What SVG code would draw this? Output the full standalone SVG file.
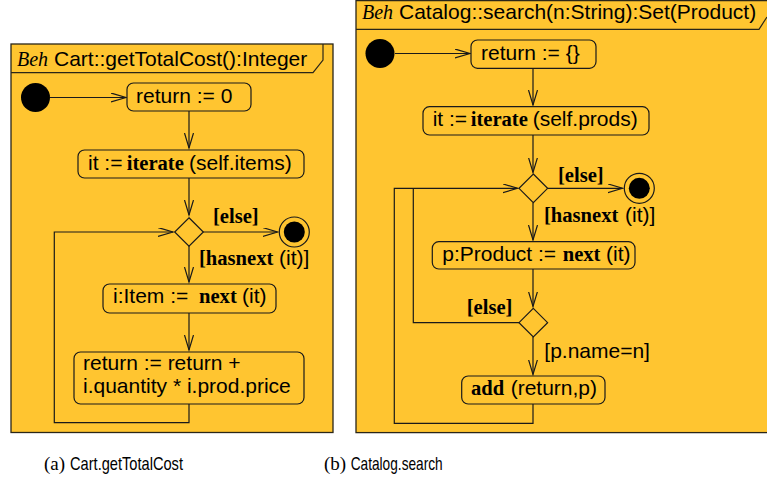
<svg xmlns="http://www.w3.org/2000/svg" width="767" height="479" viewBox="0 0 767 479">
<style>
.frame{fill:#FFC530;stroke:#2a2618;stroke-width:1.3}
.hdr{fill:none;stroke:#2a2618;stroke-width:1.2}
.act{fill:#FFC530;stroke:#1a1a1a;stroke-width:1.2}
.edge{fill:none;stroke:#1a1a1a;stroke-width:1.2}
.dec{fill:#FFC530;stroke:#1a1a1a;stroke-width:1.2}
.sans{font-family:"Liberation Sans",Arial,sans-serif;font-size:21px;fill:#000}
.bs{font-family:"Liberation Serif","Times New Roman",serif;font-weight:bold;font-size:20.6px}
.beh{font-family:"Liberation Serif","Times New Roman",serif;font-style:italic;font-size:20px}
.cap{font-family:"Liberation Sans",Arial,sans-serif;font-size:19px;fill:#000}
.capr{font-family:"Liberation Serif","Times New Roman",serif;font-size:19px;fill:#000}
</style>
<defs>
<marker id="arr" markerUnits="userSpaceOnUse" markerWidth="17" markerHeight="11" refX="15" refY="4.5" orient="auto">
<path d="M0,0 L15,4.5 L0,9" fill="none" stroke="#1a1a1a" stroke-width="1.2"/>
</marker>
</defs>
<rect width="767" height="479" fill="#fff"/>

<!-- Left frame -->
<g id="frameA">
<rect class="frame" x="11" y="44" width="322" height="388.5"/>
<path class="hdr" d="M11,72.7 L313,72.7 L323,60 L323,44"/>
<text x="17" y="65.5" class="beh">Beh</text>
<text x="54" y="65.5" class="sans">Cart::getTotalCost():Integer</text>
</g>

<!-- Right frame -->
<g id="frameB">
<rect class="frame" x="356" y="0.6" width="430" height="432"/>
<path class="hdr" d="M356,29.3 L759,29.3 L767,17"/>
<text x="362" y="19" class="beh">Beh</text>
<text x="399" y="19" class="sans">Catalog::search(n:String):Set(Product)</text>
</g>

<!-- Connectors -->
<g id="connectors">
<line class="edge" x1="50" y1="97.5" x2="126" y2="97.5" marker-end="url(#arr)"/>
<line class="edge" x1="189" y1="111" x2="189" y2="148" marker-end="url(#arr)"/>
<line class="edge" x1="189" y1="178" x2="189" y2="215" marker-end="url(#arr)"/>
<line class="edge" x1="203" y1="232" x2="277.5" y2="232" marker-end="url(#arr)"/>
<line class="edge" x1="189" y1="246" x2="189" y2="282" marker-end="url(#arr)"/>
<line class="edge" x1="189" y1="313" x2="189" y2="350" marker-end="url(#arr)"/>
<polyline class="edge" points="189,404 189,422.7 54.3,422.7 54.3,232 173,232" marker-end="url(#arr)"/>

<line class="edge" x1="395" y1="53.5" x2="470" y2="53.5" marker-end="url(#arr)"/>
<line class="edge" x1="533" y1="68.3" x2="533" y2="105" marker-end="url(#arr)"/>
<line class="edge" x1="533" y1="135" x2="533" y2="172.5" marker-end="url(#arr)"/>
<line class="edge" x1="547.5" y1="188.3" x2="622.5" y2="188.3" marker-end="url(#arr)"/>
<line class="edge" x1="533" y1="202.7" x2="533" y2="240" marker-end="url(#arr)"/>
<line class="edge" x1="533" y1="269" x2="533" y2="306.5" marker-end="url(#arr)"/>
<line class="edge" x1="533" y1="336.7" x2="533" y2="374.5" marker-end="url(#arr)"/>
<polyline class="edge" points="519,322.7 413.3,322.7 413.3,188.3"/>
<polyline class="edge" points="533,404 533,423.3 394.3,423.3 394.3,188.3 517.5,188.3" marker-end="url(#arr)"/>
</g>

<!-- Left diagram nodes -->
<g id="a_init"><circle cx="35.5" cy="97.5" r="14.5" fill="#000"/></g>
<g id="a_ret0">
<rect class="act" x="127" y="83" width="124" height="28" rx="6.5"/>
<text x="136" y="103.3" class="sans">return := 0</text>
</g>
<g id="a_iter">
<rect class="act" x="78" y="150" width="226" height="28" rx="6.5"/>
<text y="169.5" class="sans"><tspan x="88">it :=</tspan><tspan x="126.7" class="bs">iterate</tspan><tspan x="189">(self.items)</tspan></text>
</g>
<g id="a_dec"><polygon class="dec" points="189,217.8 203.3,232 189,246.2 174.7,232"/></g>
<g id="a_final">
<circle cx="294.3" cy="232" r="15" fill="#FFC530" stroke="#1a1a1a" stroke-width="1.2"/>
<circle cx="294.3" cy="232" r="10.5" fill="#000"/>
</g>
<text x="213" y="222.5" class="bs">[else]</text>
<text y="265" class="sans"><tspan x="199" class="bs">[hasnext</tspan><tspan x="279">(it)]</tspan></text>
<g id="a_next">
<rect class="act" x="103" y="284" width="173" height="29" rx="6.5"/>
<text y="303.3" class="sans"><tspan x="113">i:Item :=</tspan><tspan x="199" class="bs">next</tspan><tspan x="242">(it)</tspan></text>
</g>
<g id="a_sum">
<rect class="act" x="74" y="352" width="230" height="52" rx="6.5"/>
<text x="83" y="370" class="sans">return := return +</text>
<text x="83" y="393.3" class="sans">i.quantity * i.prod.price</text>
</g>

<!-- Right diagram nodes -->
<g id="b_init"><circle cx="380" cy="53.5" r="14.5" fill="#000"/></g>
<g id="b_ret">
<rect class="act" x="471" y="40" width="125" height="28.3" rx="6.5"/>
<text x="481" y="60.3" class="sans">return := {}</text>
</g>
<g id="b_iter">
<rect class="act" x="423" y="106.7" width="226" height="28.3" rx="6.5"/>
<text y="126.3" class="sans"><tspan x="432.7">it :=</tspan><tspan x="470.7" class="bs">iterate</tspan><tspan x="532.7">(self.prods)</tspan></text>
</g>
<g id="b_dec1"><polygon class="dec" points="533.3,174 547.6,188.3 533.3,202.6 519,188.3"/></g>
<g id="b_final">
<circle cx="639.3" cy="188.3" r="15" fill="#FFC530" stroke="#1a1a1a" stroke-width="1.2"/>
<circle cx="639.3" cy="188.3" r="10.5" fill="#000"/>
</g>
<text x="558" y="181.7" class="bs">[else]</text>
<text y="221.7" class="sans"><tspan x="544" class="bs">[hasnext</tspan><tspan x="625">(it)]</tspan></text>
<g id="b_next">
<rect class="act" x="432.3" y="241.7" width="202.7" height="27.3" rx="6.5"/>
<text y="260.5" class="sans"><tspan x="442.3">p:Product :=</tspan><tspan x="562.7" class="bs">next</tspan><tspan x="606">(it)</tspan></text>
</g>
<g id="b_dec2"><polygon class="dec" points="533.3,308.4 547.6,322.7 533.3,337 519,322.7"/></g>
<text x="466.7" y="314" class="bs">[else]</text>
<text x="544.3" y="358.3" class="sans">[p.name=n]</text>
<g id="b_add">
<rect class="act" x="461.7" y="376" width="143.3" height="28" rx="6.5"/>
<text y="395.3" class="sans"><tspan x="471" class="bs">add</tspan><tspan x="510.7">(return,p)</tspan></text>
</g>

<!-- Captions -->
<text y="470" class="capr" x="44">(a)</text>
<text y="470" class="cap" x="70" textLength="113" lengthAdjust="spacingAndGlyphs">Cart.getTotalCost</text>
<text y="470" class="capr" x="324">(b)</text>
<text y="470" class="cap" x="350.7" textLength="92" lengthAdjust="spacingAndGlyphs">Catalog.search</text>
</svg>
